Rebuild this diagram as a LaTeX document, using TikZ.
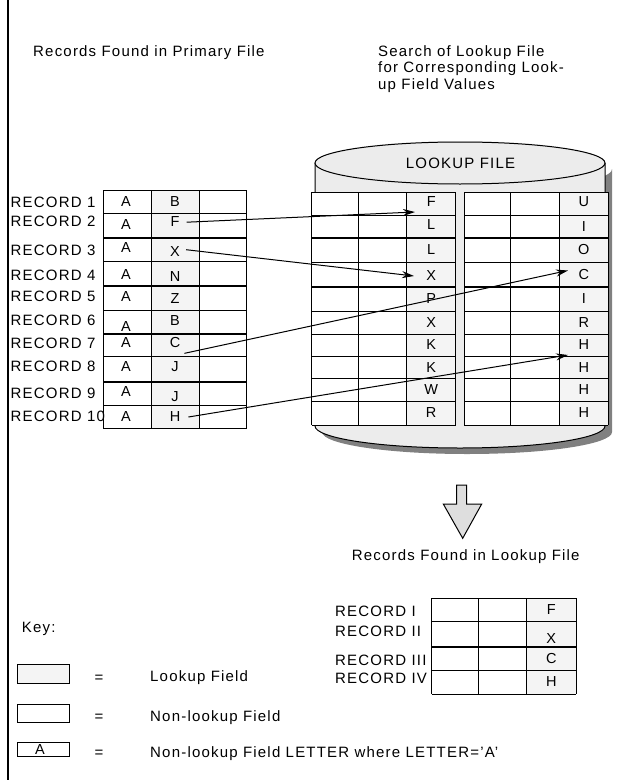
\documentclass[tikz,border=0pt]{standalone}
\usepackage{fontspec}
\setmainfont{Liberation Sans}[LetterSpace=8]
\newfontfamily\cellfont{Liberation Sans}
\usetikzlibrary{arrows.meta}
\definecolor{lkfill}{gray}{0.955}
\definecolor{cylfill}{gray}{0.925}
\definecolor{cylshadow}{gray}{0.5}
\definecolor{downfill}{gray}{0.87}
\begin{document}
\begin{tikzpicture}[x=1bp,y=-1bp,
  txt/.style={font=\fontsize{15bp}{16.7bp}\selectfont, inner sep=0pt},
  cell/.style={font=\cellfont\fontsize{14.5bp}{16.7bp}\selectfont, inner sep=0pt},
  gridline/.style={line width=1bp},
  heavy/.style={line width=2.2bp},
  link/.style={line width=1bp, -{Stealth[length=12bp,width=7bp]}},
]
\useasboundingbox (0,0) rectangle (627,780);
\fill[white] (0,0) rectangle (627,780);
% left rule
\draw[line width=1.2bp] (8,0) -- (8,780);

% titles
\node[txt, anchor=base west] (t1) at (33,56.7) {Records Found in Primary File};
\node[txt, anchor=north west, align=left] (t2) at (378,45) {Search of Lookup File\\for Corresponding Look-\\up Field Values};

% cylinder shadow
\fill[cylshadow] (322,169) -- (322,432) arc[start angle=180, end angle=0, x radius=145, y radius=22]
  -- (612,169) arc[start angle=0, end angle=180, x radius=145, y radius=22] -- cycle;
% cylinder body
\fill[cylfill] (315,163) -- (315,426) arc[start angle=180, end angle=0, x radius=145, y radius=22]
  -- (605,163) arc[start angle=0, end angle=-180, x radius=145, y radius=22] -- cycle;
\draw[line width=1bp] (315,163) -- (315,426) arc[start angle=180, end angle=0, x radius=145, y radius=22] -- (605,163);
\draw[line width=1bp, fill=cylfill] (460,163) ellipse[x radius=145, y radius=21];
\node[txt] (lkname) at (460.5,163) {LOOKUP FILE};

% primary table
\fill[white] (103.3,190) rectangle (246.7,428);
\fill[lkfill] (151,190) rectangle (199,428);
\foreach \x in {103.3,151,199,246.7} \draw[gridline] (\x,190) -- (\x,428);
\foreach \y in {190,213.3,261.7,310,356.7,405,428} \draw[gridline] (103.3,\y) -- (246.7,\y);
\foreach \y in {238.3,286,334,381.7} \draw[heavy] (103.3,\y) -- (246.7,\y);

% lookup tables
\foreach \xa/\xb/\xc/\xd in {311.7/358.3/406.7/455.7, 464/510.7/559.3/608.3}{
  \fill[white] (\xa,192.3) rectangle (\xd,425);
  \fill[lkfill] (\xc,192.3) rectangle (\xd,425);
  \foreach \x in {\xa,\xb,\xc,\xd} \draw[gridline] (\x,192.3) -- (\x,425);
  \foreach \y in {192.3,215,262.7,311.7,334,356.7,378.3,401.7,425} \draw[gridline] (\xa,\y) -- (\xd,\y);
  \foreach \y in {238.3,286.7} \draw[heavy] (\xa,\y) -- (\xd,\y);
}

% primary labels and letters
\foreach \n/\ly/\ay/\m/\my in {1/202.7/201.7/B/201.7, 2/221.7/225/F/221.7, 3/250/248/X/251.7,
   4/275/275/N/276.7, 5/296.7/296.7/Z/298.3, 6/320/326.7/B/320.7, 7/343.3/343/C/343,
   8/366.7/366.7/J/366.7, 9/393.3/391.7/J/396.7, 10/416.7/417/H/417}{
  \node[txt, anchor=west] (rec\n) at (10.5,\ly) {RECORD \n};
  \node[cell] (pa\n) at (126,\ay) {A};
  \node[cell] (pm\n) at (175,\my) {\m};
}

% lookup letters
\foreach \i/\l/\ly/\r/\ry in {1/F/201.7/U/201.7, 2/L/225/I/226.7, 3/L/250/O/250, 4/X/275.7/C/275,
   5/P/298.3/I/298.3, 6/X/322.7/R/322.7, 7/K/345/H/345, 8/K/367.3/H/367.3, 9/W/390/H/390, 10/R/412.7/H/412.7}{
  \node[cell] (ll\i) at (431.2,\ly) {\l};
  \node[cell] (lr\i) at (583.8,\ry) {\r};
}

% search arrows
\coordinate (tip1) at (415,212);
\coordinate (tip2) at (414,276);
\coordinate (tip3) at (568,270.5);
\coordinate (tip4) at (568,355);
\draw[link] ([xshift=7bp,yshift=-0.5bp]pm2.east) -- (tip1);
\draw[link] ([xshift=6bp,yshift=2bp]pm3.east) -- (tip2);
\draw[link] ([xshift=4bp,yshift=-5bp]pm7.south east) -- (tip3);
\draw[link] ([xshift=8bp]pm10.east) -- (tip4);

% down arrow
\draw[line width=1bp, fill=downfill] (456.7,485) -- (466.7,485) -- (466.7,504) -- (481.7,504)
  -- (462.7,538.3) -- (443.3,504) -- (456.7,504) -- cycle;
\node[txt, anchor=base west] (t3) at (351.7,560) {Records Found in Lookup File};

% result table
\fill[white] (431.7,598) rectangle (576,694);
\fill[lkfill] (526.7,598) rectangle (576,694);
\foreach \x in {431.7,478,526.7,576} \draw[gridline] (\x,598) -- (\x,694);
\foreach \y in {598,621.7,670,694} \draw[gridline] (431.7,\y) -- (576,\y);
\draw[heavy] (431.7,646.7) -- (576,646.7);
\foreach \i/\lab/\ly/\l/\y in {1/I/611.7/F/610, 2/II/631.7/X/638.3, 3/III/660/C/659, 4/IV/678.3/H/681.7}{
  \node[txt, anchor=west] (res\i) at (335,\ly) {RECORD \lab};
  \node[cell] (rl\i) at (551.3,\y) {\l};
}

% key
\node[txt, anchor=base west] (key) at (21.7,632) {Key:};
\draw[gridline, fill=lkfill] (17.3,664) rectangle (69,683);
\draw[gridline, fill=white] (17.3,704) rectangle (69,722);
\draw[gridline, fill=white] (17.3,742.5) rectangle (69,756.5);
\node[cell] (keyA) at (40,749.5) {A};
\node[txt, anchor=base] (eq1) at (99,682.5) {=};
\node[txt, anchor=base] (eq2) at (99,721.7) {=};
\node[txt, anchor=base] (eq3) at (99,757.3) {=};
\node[txt, anchor=base west] (k1) at (150,681.7) {Lookup Field};
\node[txt, anchor=base west] (k2) at (150,721.7) {Non-lookup Field};
\node[txt, anchor=base west] (k3) at (150,757.3) {Non-lookup Field LETTER where LETTER='A'};
\end{tikzpicture}
\end{document}
